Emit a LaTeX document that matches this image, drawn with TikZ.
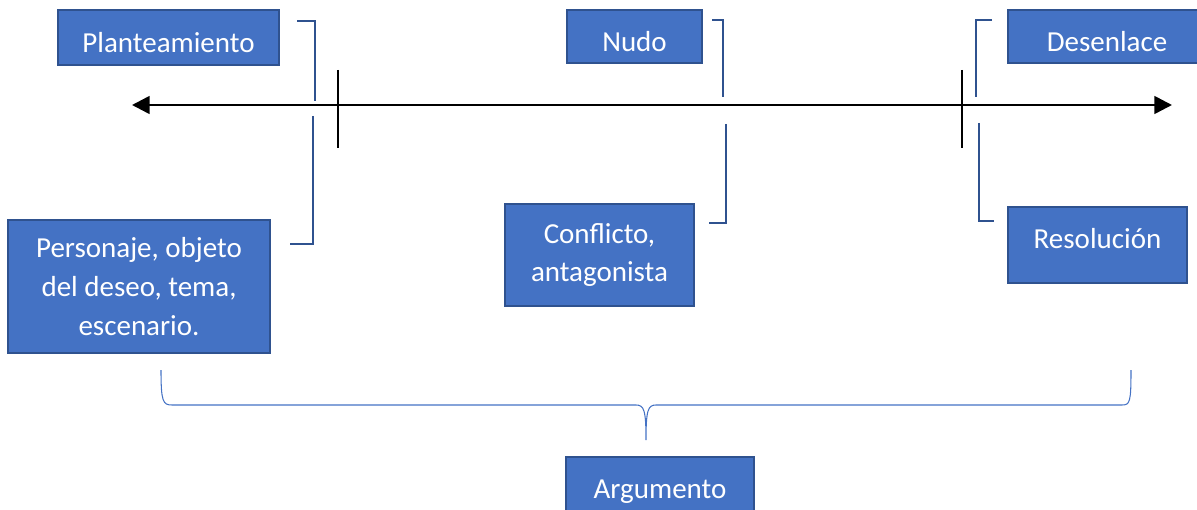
\documentclass[tikz,border=0pt]{standalone}
\usepackage{fontspec}
\setmainfont{Carlito}
\usetikzlibrary{arrows.meta}
\definecolor{cajaazul}{HTML}{4472C4}
\definecolor{bordeazul}{HTML}{2F528F}
\begin{document}
\begin{tikzpicture}
[   x=0.02cm,y=-0.02cm,
    caja/.style={draw=bordeazul,fill=cajaazul,line width=0.8pt,text=white,align=center,
        inner sep=0pt,minimum width=#1,font=\fontsize{16.5}{22}\selectfont},
    eje/.style={black,line width=1.5pt},
    corchete/.style={bordeazul,line width=1.2pt},
    llave/.style={cajaazul,line width=0.6pt},
]
    \useasboundingbox (0,0) rectangle (1197,510);
    % cajas de texto
    \node[caja=4.42cm,minimum height=1.1cm,text height=17pt] (plant) at (168.5,37.5) {Planteamiento};
    \node[caja=2.7cm,minimum height=1.06cm,text height=17pt] (nudo) at (634.5,36.5) {Nudo};
    \node[caja=3.96cm,minimum height=1.06cm,text height=17pt] (desen) at (1107,36.5) {Desenlace};
    \node[caja=5.24cm,minimum height=2.66cm] (perso) at (139,286.5) {Personaje, objeto\\del deseo, tema,\\escenario.};
    \node[caja=3.78cm,minimum height=2.04cm] (confl) at (599.5,255) {Conflicto,\\antagonista};
    \node[caja=3.58cm,minimum height=1.52cm,text depth=7pt] (resol) at (1097.5,245) {Resolución};
    \node[caja=3.76cm,minimum height=1.4cm] (argum) at (660,492) {Argumento};
    % eje temporal
    \coordinate (izq) at (132,105);
    \coordinate (der) at (1172,105);
    \draw[eje,{Triangle[length=10pt,width=10pt]}-{Triangle[length=10pt,width=10pt]}] (izq) -- (der);
    \foreach \x in {338,962}
    {   \draw[eje] (\x,70) -- (\x,148);
    }
    % corchetes
    \foreach \a/\b/\c/\d/\e/\f/\g/\h in {297/21/315/101/313/116/290/244,
        712/20/723/97/726/124/709/223, 992/20/976/97/979/123/994/221}
    {   \draw[corchete] (\a,\b) -| (\c,\d);
        \draw[corchete] (\e,\f) |- (\g,\h);
    }
    % llave inferior
    \coordinate (pico) at (646,440);
    \draw[llave] (161,370) .. controls (161,402) and (163,405) .. (172,405)
        -- (636,405) .. controls (644,405) and (646,410) .. (pico)
        .. controls (646,410) and (648,405) .. (656,405)
        -- (1122,405) .. controls (1130,405) and (1131,402) .. (1131,370);
\end{tikzpicture}
\end{document}
